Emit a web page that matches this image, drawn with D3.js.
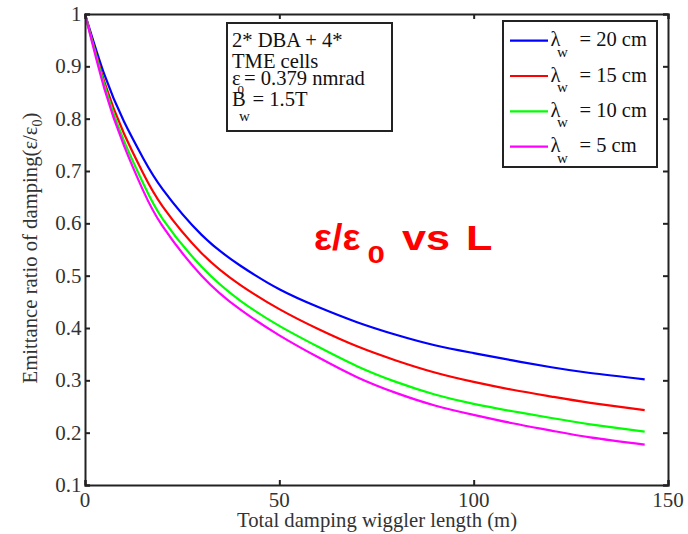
<!DOCTYPE html>
<html>
<head>
<meta charset="utf-8">
<script src="https://cdn.jsdelivr.net/npm/d3@7"></script>
<style>
  html, body { margin: 0; padding: 0; background: #fff; }
  svg { display: block; }
</style>
</head>
<body>
<svg id="chart" width="688" height="534"></svg>
<script>
// Total damping wiggler length (m)
const lengths = [0, 5, 10, 15, 20, 30, 40, 50, 60, 70, 80, 90, 100, 110, 120, 130, 144];

// Emittance ratio ε/ε0 for each wiggler period
const ratio20cm = [1, 0.884, 0.795, 0.724, 0.665, 0.578, 0.519, 0.474, 0.440, 0.411, 0.387, 0.367, 0.352, 0.338, 0.325, 0.314, 0.302];
const ratio15cm = [1, 0.870, 0.772, 0.695, 0.632, 0.543, 0.482, 0.436, 0.398, 0.365, 0.338, 0.315, 0.297, 0.282, 0.269, 0.257, 0.243];
const ratio10cm = [1, 0.864, 0.758, 0.676, 0.608, 0.517, 0.452, 0.404, 0.364, 0.327, 0.297, 0.273, 0.255, 0.241, 0.228, 0.216, 0.202];
const ratio5cm  = [1, 0.857, 0.749, 0.662, 0.594, 0.500, 0.435, 0.386, 0.344, 0.306, 0.276, 0.252, 0.234, 0.218, 0.204, 0.191, 0.177];

const seriesNames  = ["20", "15", "10", "5"];
const seriesColors = ["#0000ff", "#ff0000", "#00ff00", "#ff00ff"];
const seriesValues = [ratio20cm, ratio15cm, ratio10cm, ratio5cm];

const xTicks = [0, 50, 100, 150];
const yTicks = [0.1, 0.2, 0.3, 0.4, 0.5, 0.6, 0.7, 0.8, 0.9, 1];

const SERIF = "Liberation Serif";
const SANS = "Liberation Sans";

const svg = d3.select("#chart");
const plot = { left: 85, right: 668, top: 14, bottom: 485 };

const x = d3.scaleLinear().domain([0, 150]).range([plot.left, plot.right]);
const y = d3.scaleLinear().domain([0.1, 1]).range([plot.bottom, plot.top]);

const axisColor = "#222";

// Curves
const line = d3.line()
  .x(d => x(d[0]))
  .y(d => y(d[1]))
  .curve(d3.curveNatural);

seriesValues.forEach((vals, i) => {
  svg.append("path")
    .datum(lengths.map((l, j) => [l, vals[j]]))
    .attr("d", line)
    .attr("fill", "none")
    .attr("stroke", seriesColors[i])
    .attr("stroke-width", 2.2);
});

// Axes frame with inward ticks on all four sides
const tickLen = 5;
const axes = [
  [d3.axisBottom(x).tickValues(xTicks), `translate(0,${plot.bottom})`],
  [d3.axisTop(x).tickValues(xTicks), `translate(0,${plot.top})`],
  [d3.axisLeft(y).tickValues(yTicks), `translate(${plot.left},0)`],
  [d3.axisRight(y).tickValues(yTicks), `translate(${plot.right},0)`]
];
axes.forEach(([axis, tf]) => {
  const g = svg.append("g").attr("transform", tf)
    .call(axis.tickSize(-tickLen).tickFormat(""));
  g.select(".domain").attr("stroke", axisColor).attr("stroke-width", 2);
  g.selectAll(".tick line").attr("stroke", axisColor).attr("stroke-width", 2);
  g.selectAll(".tick text").remove();
});

// Tick labels
const tickFont = 21;
svg.append("g").selectAll("text")
  .data(xTicks).join("text")
  .attr("x", d => x(d))
  .attr("y", plot.bottom + 22)
  .attr("text-anchor", "middle")
  .attr("font-family", SERIF)
  .attr("font-size", tickFont)
  .attr("fill", "#333")
  .text(d => String(d));

svg.append("g").selectAll("text")
  .data(yTicks).join("text")
  .attr("x", plot.left - 3.5)
  .attr("y", d => y(d) + 7)
  .attr("text-anchor", "end")
  .attr("font-family", SERIF)
  .attr("font-size", tickFont)
  .attr("fill", "#333")
  .text(d => String(d));

// Axis titles
svg.append("text")
  .attr("x", 377)
  .attr("y", 527)
  .attr("text-anchor", "middle")
  .attr("font-family", SERIF)
  .attr("font-size", 20.7)
  .attr("fill", "#333")
  .text("Total damping wiggler length (m)");

const yTitle = svg.append("text")
  .attr("transform", `translate(37,248) rotate(-90)`)
  .attr("text-anchor", "middle")
  .attr("font-family", SERIF)
  .attr("font-size", 20.7)
  .attr("fill", "#333");
yTitle.append("tspan").text("Emittance ratio of damping(ε/ε");
yTitle.append("tspan").attr("font-size", 14).attr("dy", 5).text("0");
yTitle.append("tspan").attr("dy", -5).text(")");

// Parameter box
svg.append("rect")
  .attr("x", 227).attr("y", 23).attr("width", 165).attr("height", 108)
  .attr("fill", "#fff").attr("stroke", axisColor).attr("stroke-width", 2);

const info = svg.append("g").attr("font-family", SERIF).attr("font-size", 20.6).attr("fill", "#111");
info.append("text").attr("x", 232).attr("y", 46.5).text("2* DBA + 4*");
info.append("text").attr("x", 232).attr("y", 67.5).text("TME cells");
const eps = info.append("text").attr("y", 85);
eps.append("tspan").attr("x", 232).text("ε");
eps.append("tspan").attr("x", 237.5).attr("dy", 8.5).attr("font-size", 13).text("0");
eps.append("tspan").attr("x", 244).attr("dy", -8.5).text("= 0.379 nmrad");
const bw = info.append("text").attr("y", 106);
bw.append("tspan").attr("x", 232).text("B");
bw.append("tspan").attr("x", 239).attr("dy", 15).attr("font-size", 15).text("w");
bw.append("tspan").attr("x", 252.5).attr("dy", -15).text("= 1.5T");

// Legend
svg.append("rect")
  .attr("x", 503).attr("y", 21).attr("width", 154).attr("height", 146)
  .attr("fill", "#fff").attr("stroke", axisColor).attr("stroke-width", 2);

seriesNames.forEach((name, i) => {
  const cy = 40.7 + i * 35.3;
  svg.append("line")
    .attr("x1", 510).attr("x2", 548)
    .attr("y1", cy).attr("y2", cy)
    .attr("stroke", seriesColors[i]).attr("stroke-width", 2.2);
  const t = svg.append("text")
    .attr("y", cy + 5.5)
    .attr("font-family", SERIF)
    .attr("font-size", 20.5).attr("fill", "#111");
  t.append("tspan").attr("x", 550.5).text("λ");
  t.append("tspan").attr("x", 557).attr("dy", 10.5).attr("font-size", 15).text("w");
  t.append("tspan").attr("x", 579.5).attr("dy", -10.5).text(`= ${name} cm`);
});

// Headline: ε/ε0 vs L
function headPiece(txt, px, py, size, sx) {
  svg.append("text")
    .attr("transform", `translate(${px},${py}) scale(${sx},1)`)
    .attr("font-family", SANS)
    .attr("font-weight", "bold")
    .attr("font-size", size)
    .attr("fill", "#ff0000")
    .text(txt);
}
headPiece("ε/ε", 314, 250, 36, 1.05);
headPiece("0", 367.5, 263, 24, 1.3);
headPiece("vs", 402, 250, 36, 1.2);
headPiece("L", 466, 250, 36, 1.2);
</script>
</body>
</html>
